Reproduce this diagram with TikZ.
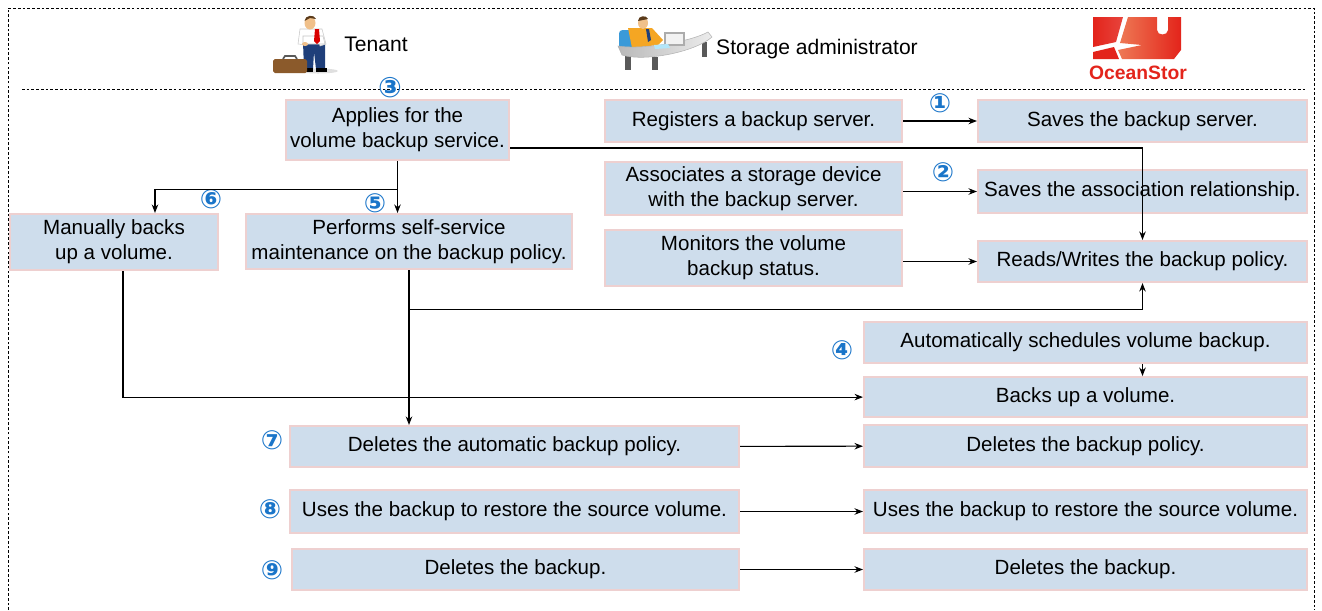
\documentclass[tikz,border=0pt]{standalone}
\usepackage{fontspec}
\setmainfont{Liberation Sans}
\newfontfamily\symfont{DejaVu Sans}
\usetikzlibrary{positioning,arrows.meta}
\definecolor{boxfill}{HTML}{CEDDEC}
\definecolor{boxline}{HTML}{EED0D0}
\definecolor{stepblue}{HTML}{1A75C9}
\definecolor{logored}{HTML}{E3241B}
\definecolor{logolight}{HTML}{EE7A55}
\definecolor{chairblue}{HTML}{3A9AD9}
\definecolor{shirtorange}{HTML}{F5A623}
\definecolor{skin}{HTML}{F0C08A}
\definecolor{hair}{HTML}{5A3A1A}
\definecolor{trouser}{HTML}{1F3F7A}
\definecolor{case}{HTML}{8B5A2B}

\tikzset{
  task/.style={draw=boxline, line width=1.2pt, fill=boxfill, align=center, inner sep=1pt},
  num/.style={text=stepblue, font=\symfont\bfseries\fontsize{15}{15}\selectfont, inner sep=0pt},
  role/.style={font=\fontsize{12}{14}\selectfont, inner sep=0pt},
  link/.style={line width=0.6pt},
}

\begin{document}
\begin{tikzpicture}[x=0.02cm, y=-0.02cm, >={Stealth[length=1.7mm,width=1.3mm]},
  every node/.style={font=\fontsize{11.7}{14.2}\selectfont}]
\useasboundingbox (0,0) rectangle (1322,610);

% frame and header separator
\draw[dashed, line width=0.5pt, dash pattern=on 1.5pt off 1.2pt] (8,610) -- (8,8) -- (1314,8) -- (1314,610);
\draw[dashed, line width=0.5pt, dash pattern=on 1.5pt off 1.2pt] (22,89) -- (1306,89);

% tenant figure
\fill[gray!25] (318,71) ellipse (20 and 2.5);
\fill[trouser] (303,42) -- (325,42) -- (325,69) -- (316,69) -- (314,52) -- (313,69) -- (304,69) -- cycle;
\fill[black] (303,68) rectangle (313,72);
\fill[black] (316,68) rectangle (327,72);
\fill[white, draw=gray!45, line width=0.3pt] (300,29) -- (322,29) -- (326,44) -- (320,46) -- (318,37) -- (307,37) -- (307,45) -- (298,44) -- cycle;
\fill[white, draw=gray!45, line width=0.3pt] (303,36) -- (323,36) -- (325,44) -- (303,44) -- cycle;
\fill[skin] (305,44) ellipse (3 and 2);
\fill[red!85!black] (315,29) -- (319,29) -- (320,41) -- (317,44) -- (314,41) -- cycle;
\fill[skin] (310,23) ellipse (5.5 and 6.5);
\fill[hair] (304.5,21) .. controls (305,15) and (314,14) .. (316,19) -- (310,18) -- cycle;
\fill[case, rounded corners=1pt] (273,59) rectangle (307,73);
\draw[gray!70!black, line width=1pt] (283,59) -- (285,56) -- (295,56) -- (297,59);

% storage administrator figure
\fill[chairblue, rounded corners=2pt] (619,30) rectangle (634,49);
\fill[shirtorange] (628,28) -- (652,28) -- (663,40) -- (658,45) -- (632,48) -- cycle;
\fill[trouser] (646,29) -- (649,29) -- (651,40) -- (648,42) -- cycle;
\fill[skin] (643,23) ellipse (5 and 6);
\fill[hair] (638,21) .. controls (638,15) and (647,15) .. (648,19) -- cycle;
\fill[gray!70!black] (625,53) rectangle (631,70);
\fill[gray!70!black] (652,57) rectangle (658,70);
\fill[gray!70!black] (702,42) rectangle (707,57);
\shade[left color=gray!55, right color=gray!15, draw=gray!60, line width=0.3pt]
  (618,46) .. controls (640,50) and (690,42) .. (708,32) -- (712,37) .. controls (695,52) and (645,62) .. (622,55) -- cycle;
\fill[gray!65] (664,32) rectangle (685,46);
\fill[gray!10] (666,34) rectangle (683,44);
\fill[cyan!30] (654,45) -- (668,44) -- (670,48) -- (655,49) -- cycle;

% storage logo
\shade[left color=logored, right color=logored!85!white] (1093,17) -- (1123,17) -- (1116,42) -- (1093,47) -- cycle;
\shade[left color=logolight, right color=logored]
  (1128,17) -- (1157,17) -- (1157,30) .. controls (1157,36) and (1168,36) .. (1168,30) -- (1168,17) -- (1181,17)
  -- (1181,50) -- (1174,59) -- (1122,59) -- (1118,50) -- (1142,45) -- (1120,43) -- cycle;
\fill[logored] (1093,52) -- (1114,47) -- (1119,59) -- (1093,59) -- cycle;

\node[role] (tenant) at (376,44) {Tenant};
\node[role] (admin) at (817,49) {Storage administrator};
\node[text=logored, font=\bfseries\fontsize{11}{11}\selectfont, inner sep=0pt] (brand) at (1138,73) {OceanStor};

% steps
\node[task, minimum width=4.46cm, minimum height=1.2cm] (apply) at (397.5,130) {Applies for the\\volume backup service.};
\node[task, minimum width=5.94cm, minimum height=0.84cm] (reg) at (753.5,121) {Registers a backup server.};
\node[task, minimum width=6.58cm, minimum height=0.84cm] (savesrv) at (1142.5,121) {Saves the backup server.};
\node[task, minimum width=5.94cm, minimum height=1.06cm] (assoc) at (753.5,188.5) {Associates a storage device\\with the backup server.};
\node[task, minimum width=6.58cm, minimum height=0.86cm] (saveassoc) at (1142.5,191.5) {Saves the association relationship.};
\node[task, minimum width=5.94cm, minimum height=1.12cm] (monitor) at (753.5,258) {Monitors the volume\\backup status.};
\node[task, minimum width=6.58cm, minimum height=0.82cm] (rw) at (1142.5,261.5) {Reads/Writes the backup policy.};
\node[task, minimum width=4.16cm, minimum height=1.12cm] (manual) at (114,242) {Manually backs\\up a volume.};
\node[task, minimum width=6.52cm, minimum height=1.1cm] (perform) at (409,241.5) {Performs self-service\\maintenance on the backup policy.};
\node[task, minimum width=8.86cm, minimum height=0.82cm] (auto) at (1085.5,342.5) {Automatically schedules volume backup.};
\node[task, minimum width=8.86cm, minimum height=0.8cm, below=0.24cm of auto] (backs) {Backs up a volume.};
\node[task, minimum width=8.98cm, minimum height=0.82cm] (delauto) at (514.5,446.5) {Deletes the automatic backup policy.};
\node[task, minimum width=8.86cm, minimum height=0.84cm] (delpol) at (1085.5,446) {Deletes the backup policy.};
\node[task, minimum width=8.98cm, minimum height=0.86cm] (restore) at (514.5,511.5) {Uses the backup to restore the source volume.};
\node[task, minimum width=8.86cm, minimum height=0.86cm] (dorestore) at (1085.5,511.5) {Uses the backup to restore the source volume.};
\node[task, minimum width=8.94cm, minimum height=0.82cm] (delbak) at (515.5,569.5) {Deletes the backup.};
\node[task, minimum width=8.86cm, minimum height=0.82cm] (dodelbak) at (1085.5,569.5) {Deletes the backup.};

% step numbers
\node[num] (n1) at (940,103) {①};
\node[num] (n2) at (943,172) {②};
\node[num, font=\symfont\bfseries\fontsize{16}{16}\selectfont] (n3) at (390,88) {③};
\node[num] (n4) at (842,350) {④};
\node[num] (n5) at (375,203) {⑤};
\node[num] (n6) at (211,199) {⑥};
\node[num] (n7) at (272,440) {⑦};
\node[num] (n8) at (270,509) {⑧};
\node[num] (n9) at (272,570) {⑨};

% connectors
\draw[link,->] (reg) -- (savesrv);
\draw[link,->] (assoc.east |- saveassoc) -- (saveassoc);
\draw[link,->] (monitor.east |- rw) -- (rw);
\draw[link,->] ([yshift=-0.36cm]apply.east) -| (rw.north);
\coordinate (split) at ([yshift=-0.56cm]apply.south);
\draw[link] (apply.south) -- (split);
\draw[link,->] (split) -| ([xshift=0.82cm]manual.north);
\draw[link,->] (split) -- (split |- perform.north);
\coordinate (fork) at ([yshift=-0.78cm]perform.south);
\draw[link] (perform.south) -- (fork);
\draw[link,->] (fork) -| (rw.south);
\draw[link,->] (fork) -- (fork |- delauto.north);
\draw[link,->] ([xshift=0.18cm]manual.south) |- (backs);
\draw[link,->] ([xshift=1.14cm]auto.south) -- ([xshift=1.14cm]backs.north);
\draw[link,->] (delauto) -- (delpol);
\draw[link,->] (restore) -- (dorestore);
\draw[link,->] (delbak) -- (dodelbak);
\end{tikzpicture}
\end{document}
